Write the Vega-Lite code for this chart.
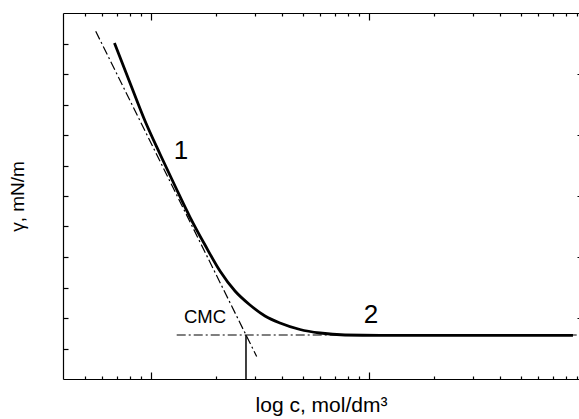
{
  "$schema": "https://vega.github.io/schema/vega-lite/v6.json",
  "width": 516,
  "height": 366,
  "autosize": {"type": "none"},
  "padding": {"left": 63, "top": 13, "right": 0, "bottom": 40},
  "background": "white",
  "config": {
    "view": {"stroke": null},
    "font": "Liberation Sans",
    "axis": {"labels": false, "grid": false, "domainColor": "#000", "domainWidth": 1.2, "tickColor": "#000", "tickWidth": 1.2, "titleFont": "Liberation Sans", "titleFontWeight": "normal", "titleColor": "#000"}
  },
  "datasets": {
    "curve": [
      {"c": 0.682, "y": 11.016},
      {"c": 0.804, "y": 9.705},
      {"c": 0.942, "y": 8.459},
      {"c": 1.103, "y": 7.377},
      {"c": 1.293, "y": 6.328},
      {"c": 1.514, "y": 5.311},
      {"c": 1.775, "y": 4.393},
      {"c": 2.079, "y": 3.541},
      {"c": 2.436, "y": 2.885},
      {"c": 2.854, "y": 2.426},
      {"c": 3.344, "y": 2.066},
      {"c": 3.918, "y": 1.836},
      {"c": 4.841, "y": 1.623},
      {"c": 5.978, "y": 1.508},
      {"c": 7.785, "y": 1.443},
      {"c": 11.27, "y": 1.43},
      {"c": 86.5, "y": 1.43}
    ],
    "tangent": [
      {"c": 0.5595, "y": 11.40},
      {"c": 3.063, "y": 0.735}
    ],
    "plateau": [
      {"c": 1.316, "y": 1.443},
      {"c": 92, "y": 1.443}
    ],
    "cmc": [
      {"c": 2.736, "y": 1.443, "y0": 0}
    ],
    "digits": [
      {"c": 1.377, "y": 7.22, "label": "1"},
      {"c": 10.25, "y": 1.826, "label": "2"}
    ],
    "cmclabel": [
      {"c": 1.775, "y": 1.826, "label": "CMC"}
    ]
  },
  "layer": [
    {
      "data": {"name": "plateau"},
      "mark": {"type": "line", "color": "#000", "strokeWidth": 1.2, "strokeDash": [9, 3, 2, 3]},
      "encoding": {
        "x": {"field": "c", "type": "quantitative", "scale": {"type": "log", "domain": [0.396, 92.2], "nice": false, "zero": false},
          "axis": {"orient": "bottom", "title": "log c, mol/dm³", "titleFontSize": 21, "titleBaseline": "alphabetic", "titlePadding": 32,
            "values": [0.5,0.6,0.7,0.8,0.9,1,2,3,4,5,6,7,8,9,10,20,30,40,50,60,70,80,90],
            "tickSize": {"condition": {"test": "datum.value == 1 || datum.value == 10", "value": -7}, "value": -3}}},
        "y": {"field": "y", "type": "quantitative", "scale": {"domain": [0, 12], "nice": false, "zero": false},
          "axis": {"orient": "left", "title": "γ, mN/m", "titleFontSize": 19, "titlePadding": 35, "values": [1,2,3,4,5,6,7,8,9,10,11], "tickSize": -5}}
      }
    },
    {
      "data": {"name": "tangent"},
      "mark": {"type": "line", "color": "#000", "strokeWidth": 1.2, "strokeDash": [9, 3, 2, 3]},
      "encoding": {
        "x": {"field": "c", "type": "quantitative",
          "axis": {"orient": "top", "title": null,
            "values": [0.5,0.6,0.7,0.8,0.9,1,2,3,4,5,6,7,8,9,10,20,30,40,50,60,70,80,90],
            "tickSize": {"condition": {"test": "datum.value == 1 || datum.value == 10", "value": -7}, "value": -3}}},
        "y": {"field": "y", "type": "quantitative",
          "axis": {"orient": "right", "title": null, "domain": false, "values": [2,4,6,8,10], "tickSize": -2}}
      }
    },
    {
      "data": {"name": "curve"},
      "mark": {"type": "line", "color": "#000", "strokeWidth": 2.8, "interpolate": "monotone"},
      "encoding": {
        "x": {"field": "c", "type": "quantitative", "axis": null},
        "y": {"field": "y", "type": "quantitative", "axis": null}
      }
    },
    {
      "data": {"name": "cmc"},
      "mark": {"type": "rule", "color": "#000", "strokeWidth": 1.5},
      "encoding": {
        "x": {"field": "c", "type": "quantitative", "axis": null},
        "y": {"field": "y", "type": "quantitative", "axis": null},
        "y2": {"field": "y0"}
      }
    },
    {
      "data": {"name": "digits"},
      "mark": {"type": "text", "color": "#000", "fontSize": 26, "font": "Liberation Sans", "align": "center", "baseline": "alphabetic"},
      "encoding": {
        "x": {"field": "c", "type": "quantitative", "axis": null},
        "y": {"field": "y", "type": "quantitative", "axis": null},
        "text": {"field": "label"}
      }
    },
    {
      "data": {"name": "cmclabel"},
      "mark": {"type": "text", "color": "#000", "fontSize": 18.5, "font": "Liberation Sans", "align": "center", "baseline": "alphabetic"},
      "encoding": {
        "x": {"field": "c", "type": "quantitative", "axis": null},
        "y": {"field": "y", "type": "quantitative", "axis": null},
        "text": {"field": "label"}
      }
    }
  ],
  "resolve": {"axis": {"x": "independent", "y": "independent"}}
}
